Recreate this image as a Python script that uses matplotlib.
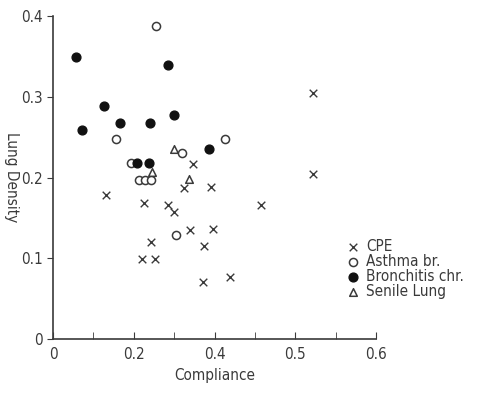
import matplotlib.pyplot as plt

# values
cpe_x = [0.259, 0.243, 0.294, 0.098, 0.168, 0.214, 0.225, 0.386, 0.255,
         0.297, 0.182, 0.281, 0.165, 0.189, 0.279, 0.329, 0.482, 0.482]
cpe_y = [0.217, 0.187, 0.188, 0.179, 0.168, 0.166, 0.157, 0.166, 0.135,
         0.136, 0.120, 0.115, 0.099, 0.099, 0.070, 0.077, 0.305, 0.205]

asthma_x = [0.192, 0.117, 0.319, 0.239, 0.144, 0.159, 0.171, 0.182, 0.228]
asthma_y = [0.388, 0.248, 0.248, 0.230, 0.218, 0.197, 0.197, 0.197, 0.129]

bronch_x = [0.043, 0.214, 0.094, 0.054, 0.124, 0.180, 0.224, 0.290, 0.156, 0.179]
bronch_y = [0.350, 0.339, 0.289, 0.259, 0.267, 0.268, 0.278, 0.235, 0.218, 0.218]

senile_x = [0.225, 0.184, 0.252]
senile_y = [0.236, 0.207, 0.198]

x_ticks = [0, 0.15, 0.3, 0.45, 0.6]
x_tick_labels = ["0", "0.2", "0.4", "0.5", "0.6"]
y_ticks = [0, 0.1, 0.2, 0.3, 0.4]
y_tick_labels = ["0", "0.1", "0.2", "0.3", "0.4"]

ink = "#3a3a3a"
plt.rcParams['font.family'] = ['DejaVu Sans']
plt.rcParams['font.stretch'] = 'condensed'

fig = plt.figure(figsize=(4.78, 3.94), dpi=100)
ax = fig.add_axes([0.111, 0.1396, 0.676, 0.8194])

ax.scatter(cpe_x, cpe_y, marker="x", s=30, c=ink, linewidths=1.0, label="CPE")
ax.scatter(asthma_x, asthma_y, marker="o", s=34, facecolors="white",
           edgecolors=ink, linewidths=1.1, label="Asthma br.")
ax.scatter(bronch_x, bronch_y, marker="o", s=40, c="#111111", label="Bronchitis chr.")
ax.scatter(senile_x, senile_y, marker="^", s=30, facecolors="white",
           edgecolors=ink, linewidths=1.1, label="Senile Lung")

ax.set_xlim(0, 0.6)
ax.set_ylim(0, 0.4)
ax.set_xticks(x_ticks)
ax.set_xticklabels(x_tick_labels)
ax.set_xticks([0.075, 0.225, 0.375, 0.525], minor=True)
ax.set_yticks(y_ticks)
ax.set_yticklabels(y_tick_labels)

for s in ["top", "right"]:
    ax.spines[s].set_visible(False)
for s in ["left", "bottom"]:
    ax.spines[s].set_color(ink)
    ax.spines[s].set_linewidth(1.2)

ax.tick_params(axis="x", which="both", direction="in", length=5, colors=ink,
               labelsize=11, pad=6)
ax.tick_params(axis="y", direction="out", length=4, colors=ink, labelsize=11)

ax.set_xlabel("Compliance", fontsize=11, color=ink)
ax.set_ylabel("Lung Density", fontsize=11, color=ink, rotation=270, labelpad=12)

ax.legend(loc="upper left", bbox_to_anchor=(0.905, 0.31), frameon=False,
          handletextpad=0.35, labelspacing=0.0, fontsize=11, handlelength=1.0,
          labelcolor=ink, borderaxespad=0, borderpad=0)

fig.savefig("out.png", dpi=100)
